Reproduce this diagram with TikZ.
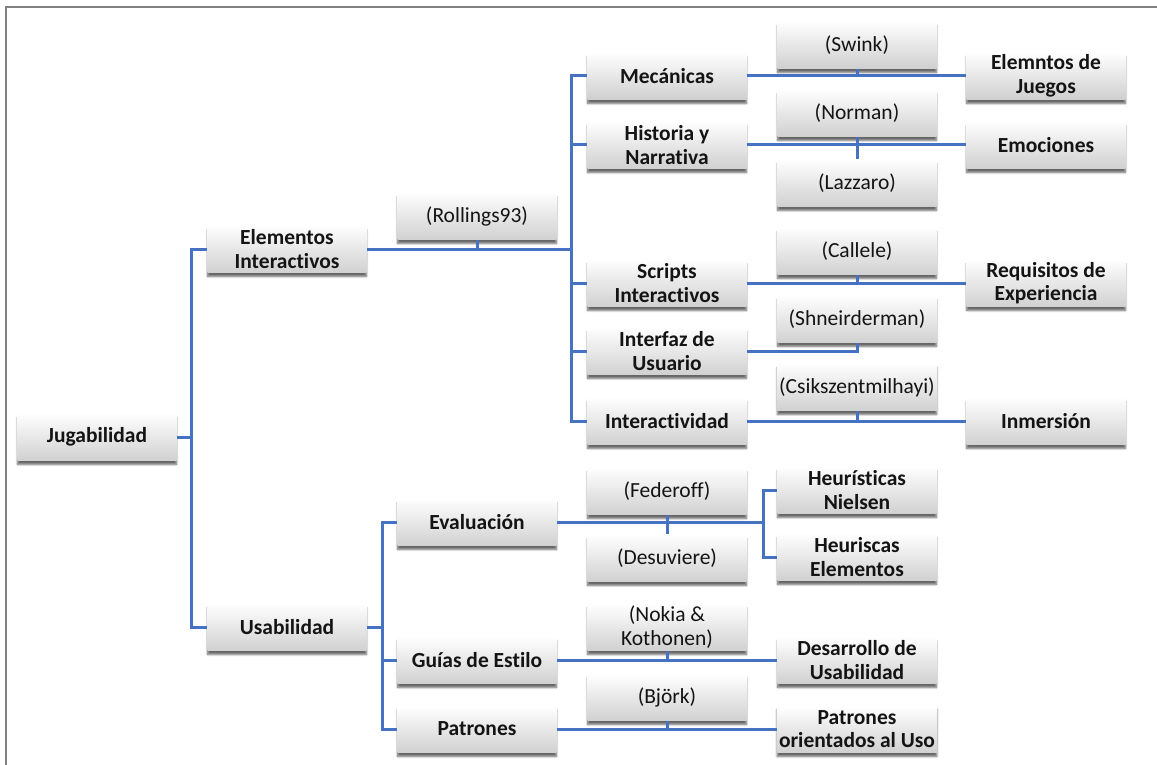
\documentclass[tikz,border=0pt]{standalone}
\usepackage{fontspec}
\setmainfont{Carlito}[Ligatures={NoCommon}]
\usetikzlibrary{shadows.blur}
\definecolor{linkblue}{RGB}{70,114,196}
\definecolor{boxgray}{RGB}{208,208,208}
\definecolor{txt}{RGB}{20,20,20}
\definecolor{framegray}{RGB}{130,130,130}
\tikzset{
  box/.style={rectangle, minimum width=159pt, minimum height=47pt, inner sep=2pt,
    align=center, top color=white, bottom color=boxgray, text=txt,
    font=\fontsize{21.5}{23.5}\selectfont,
    blur shadow={shadow xshift=0pt, shadow yshift=-4pt, shadow blur steps=6, shadow opacity=60}},
  topic/.style={box, font=\fontsize{21.5}{23.5}\selectfont\bfseries},
  cite/.style={box},
  conn/.style={draw=linkblue, line width=3pt},
}
\begin{document}
\begin{tikzpicture}[x=1pt,y=-1pt]
\useasboundingbox (0,0) rectangle (1157,765);
\draw[framegray, line width=1.3pt] (6,765) -- (6,7) -- (1157,7);

% level 0-1
\node[topic] (jug) at (97,437) {Jugabilidad};
\node[topic] (elem) at (287,249) {Elementos\\Interactivos};
\node[topic] (usa) at (287,627) {Usabilidad};
\node[cite] (roll) at (477,216) {(Rollings93)};

% upper branch
\node[topic] (mec) at (667,76) {Mecánicas};
\node[topic] (his) at (667,145) {Historia y\\Narrativa};
\node[topic] (scr) at (667,283) {Scripts\\Interactivos};
\node[topic] (intf) at (667,351) {Interfaz de\\Usuario};
\node[topic] (inter) at (667,421) {Interactividad};

\node[cite] (swi) at (857,45) {(Swink)};
\node[cite] (nor) at (857,113) {(Norman)};
\node[cite] (laz) at (857,183) {(Lazzaro)};
\node[cite] (cal) at (857,251) {(Callele)};
\node[cite] (shn) at (857,319) {(Shneirderman)};
\node[cite] (csi) at (857,387) {(Csikszentmilhayi)};

\node[topic] (ejue) at (1046,76) {Elemntos de\\Juegos};
\node[topic] (emo) at (1046,145) {Emociones};
\node[topic] (req) at (1046,283) {Requisitos de\\Experiencia};
\node[topic] (inm) at (1046,421) {Inmersión};

% lower branch
\node[topic] (eva) at (477,522) {Evaluación};
\node[topic] (gui) at (477,660) {Guías de Estilo};
\node[topic] (pat) at (477,729) {Patrones};

\node[cite] (fed) at (667,491) {(Federoff)};
\node[cite] (des) at (667,558) {(Desuviere)};
\node[cite] (nok) at (667,627) {(Nokia \&\\Kothonen)};
\node[cite] (bjo) at (667,697) {(Björk)};

\node[topic] (hn) at (857,490) {Heurísticas\\Nielsen};
\node[topic] (he) at (857,557) {Heuriscas\\Elementos};
\node[topic] (dus) at (857,660) {Desarrollo de\\Usabilidad};
\node[topic] (pou) at (857,729) {Patrones\\orientados al Uso};

% connectors
\coordinate (j1) at (191,437);
\draw[conn] (jug.east) -- (j1);
\draw[conn] (j1) |- (elem.west);
\draw[conn] (j1) |- (usa.west);

\coordinate (e1) at (571,249);
\draw[conn] (elem.east) -- (e1);
\draw[conn] (roll.south) -- (roll.south |- e1);
\draw[conn] (e1) |- (mec.west);
\draw[conn] (e1) |- (his.west);
\draw[conn] (e1) |- (scr.west);
\draw[conn] (e1) |- (intf.west);
\draw[conn] (e1) |- (inter.west);

\draw[conn] (mec.east) -- (ejue.west);
\draw[conn] (swi.south) -- (swi.south |- mec.east);
\draw[conn] (his.east) -- (emo.west);
\draw[conn] (nor.south) -- (laz.north);
\draw[conn] (scr.east) -- (req.west);
\draw[conn] (cal.south) -- (cal.south |- scr.east);
\draw[conn] (intf.east) -| (shn.south);
\draw[conn] (inter.east) -- (inm.west);
\draw[conn] (csi.south) -- (csi.south |- inter.east);

\coordinate (u1) at (382,627);
\draw[conn] (usa.east) -- (u1);
\draw[conn] (u1) |- (eva.west);
\draw[conn] (u1) |- (gui.west);
\draw[conn] (u1) |- (pat.west);

\coordinate (v1) at (763,522);
\draw[conn] (eva.east) -- (v1);
\draw[conn] (fed.south) -- (des.north);
\draw[conn] (v1) |- (hn.west);
\draw[conn] (v1) |- (he.west);

\draw[conn] (gui.east) -- (dus.west);
\draw[conn] (nok.south) -- (nok.south |- gui.east);
\draw[conn] (pat.east) -- (pou.west);
\draw[conn] (bjo.south) -- (bjo.south |- pat.east);
\end{tikzpicture}
\end{document}
